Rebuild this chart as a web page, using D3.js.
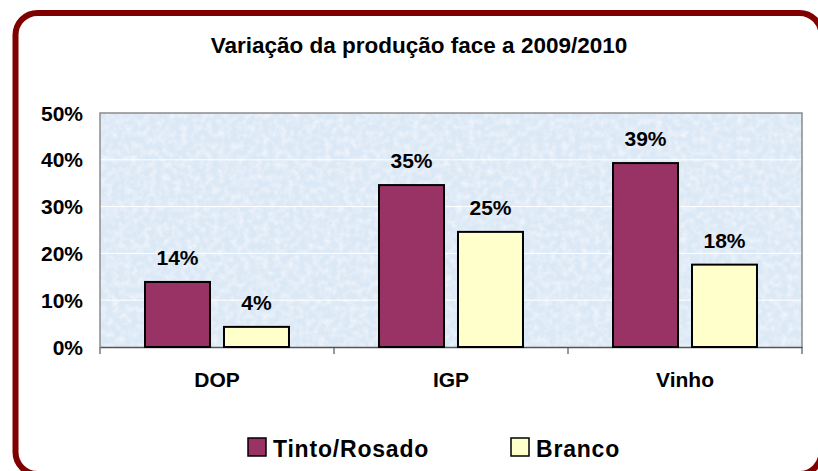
<!DOCTYPE html>
<html>
<head>
<meta charset="utf-8">
<script src="https://cdn.jsdelivr.net/npm/d3@7"></script>
<style>
  body { margin: 0; background: #fff; }
  svg { display: block; font-family: "Liberation Sans", Arial, sans-serif; font-weight: bold; }
</style>
</head>
<body>
<div id="chart"></div>
<script>
// data
const categories = ["DOP", "IGP", "Vinho"]
const seriesNames = ["Tinto/Rosado", "Branco"]
const tintoValues = [0.139, 0.346, 0.393]
const brancoValues = [0.043, 0.246, 0.176]
const yTicks = [0, 0.1, 0.2, 0.3, 0.4, 0.5]
const seriesColors = ["#993366", "#ffffcc"]

const width = 818
const height = 471
const plot = { left: 100, right: 802, top: 113, bottom: 347 }

const svg = d3.select("#chart").append("svg")
    .attr("width", width)
    .attr("height", height)

const defs = svg.append("defs")

// textured light blue background for the plot area
const filter = defs.append("filter")
    .attr("id", "paper")
    .attr("x", 0).attr("y", 0).attr("width", 1).attr("height", 1)
filter.append("feTurbulence")
    .attr("type", "fractalNoise")
    .attr("baseFrequency", 0.16)
    .attr("numOctaves", 2)
    .attr("seed", 7)
    .attr("result", "noise")
filter.append("feColorMatrix")
    .attr("in", "noise")
    .attr("type", "matrix")
    .attr("values", "0 0 0 0 0.95  0 0 0 0 0.97  0 0 0 0 1  0 0 0 -1.2 0.75")
    .attr("result", "tint")
filter.append("feComposite")
    .attr("in", "tint")
    .attr("in2", "SourceGraphic")
    .attr("operator", "over")

// outer rounded frame
svg.append("rect")
    .attr("x", 15.5)
    .attr("y", 13)
    .attr("width", 806)
    .attr("height", 461)
    .attr("rx", 22)
    .attr("fill", "#fff")
    .attr("stroke", "#800000")
    .attr("stroke-width", 6)

// scales
const x = d3.scaleBand()
    .domain(categories)
    .range([plot.left, plot.right])

const xSub = d3.scaleBand()
    .domain(seriesNames)
    .range([0, x.bandwidth()])
    .paddingInner(0.177)
    .paddingOuter(0.57)

const y = d3.scaleLinear()
    .domain([0, 0.5])
    .range([plot.bottom, plot.top])

// plot background
svg.append("rect")
    .attr("x", plot.left)
    .attr("y", plot.top)
    .attr("width", plot.right - plot.left)
    .attr("height", plot.bottom - plot.top)
    .attr("fill", "#dbe8f5")
    .attr("filter", "url(#paper)")

// gridlines
svg.append("g")
    .selectAll("line")
    .data(yTicks.filter(d => d > 0 && d < 0.5))
    .join("line")
    .attr("x1", plot.left)
    .attr("x2", plot.right)
    .attr("y1", d => y(d))
    .attr("y2", d => y(d))
    .attr("stroke", "#ffffff")
    .attr("stroke-width", 1)

// plot border (top, left, right)
svg.append("path")
    .attr("d", `M${plot.left},${plot.bottom} V${plot.top} H${plot.right} V${plot.bottom}`)
    .attr("fill", "none")
    .attr("stroke", "#8c8c8c")
    .attr("stroke-width", 1.5)

// y axis labels
svg.append("g")
    .selectAll("text")
    .data(yTicks)
    .join("text")
    .attr("x", 83)
    .attr("y", d => y(d))
    .attr("dy", "0.36em")
    .attr("text-anchor", "end")
    .attr("font-size", 21)
    .attr("fill", "#000")
    .text(d => d3.format(".0%")(d))

// x axis line and category ticks
const xAxis = d3.axisBottom(x).tickSize(0).tickFormat("")
svg.append("g")
    .attr("transform", `translate(0, ${plot.bottom})`)
    .call(xAxis)
    .call(g => g.select(".domain").attr("stroke", "#555").attr("stroke-width", 1.5))

const boundaries = categories.map(c => x(c)).concat([plot.right])
svg.append("g")
    .selectAll("line")
    .data(boundaries)
    .join("line")
    .attr("x1", d => d)
    .attr("x2", d => d)
    .attr("y1", plot.bottom)
    .attr("y2", plot.bottom + 7)
    .attr("stroke", "#555")
    .attr("stroke-width", 1.2)

// category labels
svg.append("g")
    .selectAll("text")
    .data(categories)
    .join("text")
    .attr("x", d => x(d) + x.bandwidth() / 2)
    .attr("y", 387)
    .attr("text-anchor", "middle")
    .attr("font-size", 21)
    .attr("fill", "#000")
    .text(d => d)

// bars
const seriesData = [tintoValues, brancoValues]
const barRows = []
categories.forEach((c, i) => {
    seriesNames.forEach((s, j) => {
        barRows.push({ category: c, series: s, value: seriesData[j][i], color: seriesColors[j] })
    })
})

svg.append("g")
    .selectAll("rect")
    .data(barRows)
    .join("rect")
    .attr("x", d => x(d.category) + xSub(d.series))
    .attr("y", d => y(d.value))
    .attr("width", xSub.bandwidth())
    .attr("height", d => y(0) - y(d.value))
    .attr("fill", d => d.color)
    .attr("stroke", "#000")
    .attr("stroke-width", 2)

// value labels
svg.append("g")
    .selectAll("text")
    .data(barRows)
    .join("text")
    .attr("x", d => x(d.category) + xSub(d.series) + xSub.bandwidth() / 2)
    .attr("y", d => y(d.value) - 17)
    .attr("text-anchor", "middle")
    .attr("font-size", 21)
    .attr("fill", "#000")
    .text(d => d3.format(".0%")(d.value))

// title
svg.append("text")
    .attr("x", 419)
    .attr("y", 53)
    .attr("text-anchor", "middle")
    .attr("font-size", 22.5)
    .attr("fill", "#000")
    .text("Variação da produção face a 2009/2010")

// legend
const legendX = [248, 511]
const legend = svg.append("g")
    .selectAll("g")
    .data(seriesNames)
    .join("g")
    .attr("transform", (d, i) => `translate(${legendX[i]}, 438)`)

legend.append("rect")
    .attr("width", 18)
    .attr("height", 18)
    .attr("fill", (d, i) => seriesColors[i])
    .attr("stroke", "#000")
    .attr("stroke-width", 1.5)

legend.append("text")
    .attr("x", 25)
    .attr("y", 19)
    .attr("font-size", 23)
    .attr("letter-spacing", 0.8)
    .attr("fill", "#000")
    .text(d => d)
</script>
</body>
</html>
